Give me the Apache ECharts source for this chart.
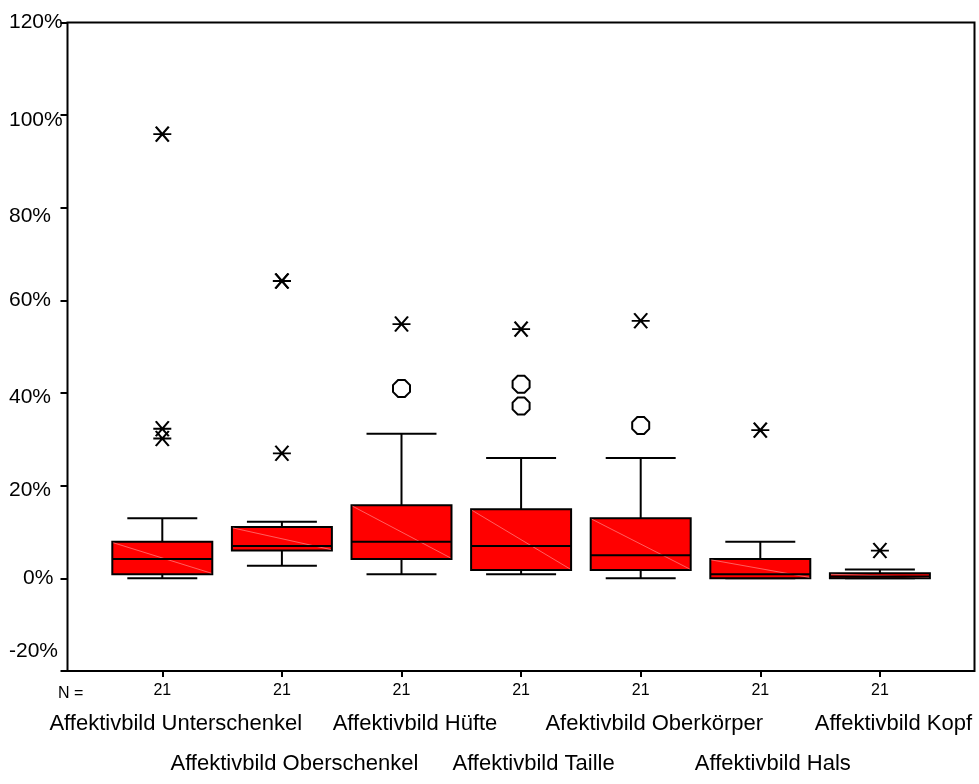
<!DOCTYPE html>
<html>
<head>
<meta charset="utf-8">
<script src="https://cdn.jsdelivr.net/npm/echarts@6/dist/echarts.min.js"></script>
<style>
html,body{margin:0;padding:0;background:#fff;}
#chart{width:979px;height:784px;}
</style>
</head>
<body>
<div id="chart"></div>
<script>
// ---- data ----
const categories = ['Affektivbild Unterschenkel','Affektivbild Oberschenkel','Affektivbild Hüfte','Affektivbild Taille','Afektivbild Oberkörper','Affektivbild Hals','Affektivbild Kopf'];
const nValues = [21, 21, 21, 21, 21, 21, 21];
const minVals    = [0.0, 2.7, 0.9, 0.9, 0.0, 0.0, 0.0];
const q1Vals     = [0.9, 6.0, 4.2, 1.8, 1.8, 0.0, 0.0];
const medianVals = [4.2, 7.0, 7.9, 7.0, 5.0, 0.9, 0.4];
const q3Vals     = [7.9, 11.1, 15.8, 14.9, 13.0, 4.2, 1.1];
const maxVals    = [13.0, 12.2, 31.2, 26.0, 26.0, 7.9, 1.9];
// outliers (circles) and extremes (stars): [categoryIndex, value]
const outlierPoints = [[2, 41.0], [3, 41.9], [3, 37.2], [4, 33.0]];
const extremePoints = [[0, 95.9], [0, 32.3], [0, 30.2], [1, 64.2], [1, 64.2], [1, 27.0], [2, 54.9], [3, 53.8], [4, 55.6], [5, 32.0], [6, 6.0]];
const yMin = -20, yMax = 120, yStep = 20;

const FONT = "'Liberation Sans', Arial, Helvetica, sans-serif";
const boxData = categories.map((c, i) => [i, minVals[i], q1Vals[i], medianVals[i], q3Vals[i], maxVals[i]]);

const gridBase = {top: 22.5, bottom: 113, outerBoundsMode: 'none', containLabel: false};
const catGrid = Object.assign({left: 102.5, right: 39.3}, gridBase);

function hiddenY(gi) {
  return {type: 'value', gridIndex: gi, min: yMin, max: yMax, interval: yStep, show: false};
}

const yLabelRich = {
  lo: {fontSize: 21, fontFamily: FONT, color: '#000', padding: [0, 0, 40, 0]},
  d8: {fontSize: 21, fontFamily: FONT, color: '#000', padding: [16, 0, 0, 0]},
  d5: {fontSize: 21, fontFamily: FONT, color: '#000', padding: [10, 0, 0, 0]},
  z:  {fontSize: 21, fontFamily: FONT, color: '#000', padding: [0, 0, 0, 14]},
  u4: {fontSize: 21, fontFamily: FONT, color: '#000', padding: [8, 0, 0, 0]}
};

const option = {
  animation: false,
  backgroundColor: '#fff',
  title: {
    text: 'N =', left: 53, top: 681,
    textStyle: {fontSize: 16, fontWeight: 'normal', fontFamily: FONT, color: '#000'}
  },
  grid: [
    Object.assign({left: 67.5, right: 4.5, show: true, borderColor: '#000', borderWidth: 2, backgroundColor: 'transparent'}, gridBase),
    Object.assign({}, catGrid),
    Object.assign({}, catGrid),
    Object.assign({}, catGrid)
  ],
  xAxis: [
    {type: 'value', gridIndex: 0, min: 0, max: 1, show: false},
    {
      type: 'category', gridIndex: 1, data: categories, position: 'bottom',
      axisLine: {show: true, onZero: false, lineStyle: {color: '#000', width: 2}},
      axisTick: {show: true, alignWithLabel: true, length: 6, lineStyle: {color: '#000', width: 2}},
      axisLabel: {
        interval: 0, margin: 11, fontSize: 16, lineHeight: 18, fontFamily: FONT, color: '#000',
        formatter: (v, i) => String(nValues[i])
      },
      splitLine: {show: false}
    },
    {
      type: 'category', gridIndex: 2, data: categories, position: 'bottom',
      axisLine: {show: false, onZero: false}, axisTick: {show: false}, splitLine: {show: false},
      axisLabel: {
        interval: 0, margin: 40, fontSize: 22, lineHeight: 26, fontFamily: FONT, color: '#000',
        padding: [0, 0, 0, 27],
        formatter: (v, i) => (i % 2 === 0 ? v : '')
      }
    },
    {
      type: 'category', gridIndex: 3, data: categories, position: 'bottom',
      axisLine: {show: false, onZero: false}, axisTick: {show: false}, splitLine: {show: false},
      axisLabel: {
        interval: 0, margin: 80, fontSize: 22, lineHeight: 26, fontFamily: FONT, color: '#000',
        padding: [0, 0, 0, 25],
        formatter: (v, i) => (i % 2 === 1 ? v : '')
      }
    }
  ],
  yAxis: [
    {
      type: 'value', gridIndex: 0, min: yMin, max: yMax, interval: yStep,
      axisLine: {show: false},
      axisTick: {show: true, length: 7, lineStyle: {color: '#000', width: 2}},
      splitLine: {show: false},
      axisLabel: {
        margin: 58.5, align: 'left', fontSize: 21, fontFamily: FONT, color: '#000',
        showMinLabel: true, showMaxLabel: true,
        rich: yLabelRich,
        formatter: function (v) {
          const t = Math.round(v) + '%';
          const r = Math.round(v);
          if (r === -20) return '{lo|' + t + '}';
          if (r === 80) return '{d8|' + t + '}';
          if (r === 100) return '{d5|' + t + '}';
          if (r === 0) return '{z|' + t + '}';
          if (r === 20 || r === 40) return '{u4|' + t + '}';
          return t;
        }
      }
    },
    hiddenY(1), hiddenY(2), hiddenY(3)
  ],
  series: [
    {
      type: 'custom', xAxisIndex: 1, yAxisIndex: 1,
      encode: {x: 0, y: [1, 2, 3, 4, 5]},
      data: boxData,
      renderItem: function (params, api) {
        const x = api.value(0);
        const pMin = api.coord([x, api.value(1)]);
        const pQ1 = api.coord([x, api.value(2)]);
        const pMed = api.coord([x, api.value(3)]);
        const pQ3 = api.coord([x, api.value(4)]);
        const pMax = api.coord([x, api.value(5)]);
        const band = api.size([1, 0])[0];
        const bw = band * 0.836, cw = band * 0.585;
        const cx = pMin[0];
        const ls = {stroke: '#000', lineWidth: 2};
        return {
          type: 'group',
          children: [
            {type: 'line', shape: {x1: cx, y1: pQ3[1], x2: cx, y2: pMax[1]}, style: ls},
            {type: 'line', shape: {x1: cx, y1: pQ1[1], x2: cx, y2: pMin[1]}, style: ls},
            {type: 'line', shape: {x1: cx - cw / 2, y1: pMax[1], x2: cx + cw / 2, y2: pMax[1]}, style: ls},
            {type: 'line', shape: {x1: cx - cw / 2, y1: pMin[1], x2: cx + cw / 2, y2: pMin[1]}, style: ls},
            {type: 'rect', shape: {x: cx - bw / 2, y: pQ3[1], width: bw, height: pQ1[1] - pQ3[1]},
             style: {fill: '#ff0000', stroke: '#000', lineWidth: 2}},
            {type: 'line', shape: {x1: cx - bw / 2 + 1, y1: pQ3[1] + 1, x2: cx + bw / 2 - 1, y2: pQ1[1] - 1},
             style: {stroke: 'rgba(255,160,160,0.85)', lineWidth: 0.7}},
            {type: 'line', shape: {x1: cx - bw / 2, y1: pMed[1], x2: cx + bw / 2, y2: pMed[1]}, style: ls}
          ]
        };
      },
      z: 2
    },
    {
      type: 'scatter', xAxisIndex: 1, yAxisIndex: 1,
      data: outlierPoints,
      symbol: 'path://M3,0L7,0L10,3L10,7L7,10L3,10L0,7L0,3Z',
      symbolSize: 17,
      itemStyle: {color: 'rgba(255,255,255,0)', borderColor: '#000', borderWidth: 2, opacity: 1},
      z: 3
    },
    {
      type: 'scatter', xAxisIndex: 1, yAxisIndex: 1,
      data: extremePoints,
      symbol: 'path://M0,7.5L18,7.5M2.5,0L15.5,15M15.5,0L2.5,15',
      symbolSize: [18, 15],
      itemStyle: {color: 'rgba(255,255,255,0)', borderColor: '#000', borderWidth: 2, opacity: 1},
      z: 3
    }
  ]
};

const chart = echarts.init(document.getElementById('chart'), null, {renderer: 'canvas'});
chart.setOption(option);
</script>
</body>
</html>
